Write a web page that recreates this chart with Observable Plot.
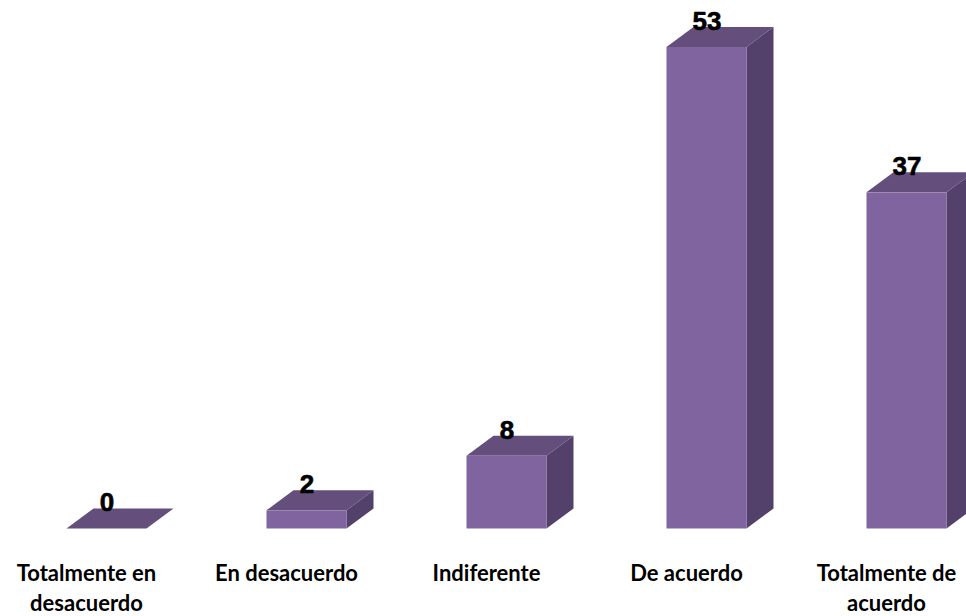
<!DOCTYPE html>
<html>
<head>
<meta charset="utf-8">
<script src="https://cdn.jsdelivr.net/npm/d3@7"></script>
<script src="https://cdn.jsdelivr.net/npm/@observablehq/plot@0.6"></script>
<style>
  html, body { margin: 0; padding: 0; background: #fff; overflow: hidden; }
  svg { display: block; }
</style>
</head>
<body>
<div id="chart"></div>
<script>
const categories = ["Totalmente en desacuerdo", "En desacuerdo", "Indiferente", "De acuerdo", "Totalmente de acuerdo"];
const values = [0, 2, 8, 53, 37];
const rows = categories.map((categoria, i) => ({categoria, valor: values[i]}));

// Oblique offset of the back edge of each box, in pixels
const depthX = 27;
const depthY = -20;

// Swaps the rects of a bar mark for parallelograms extruded from the front face
function extrude(face) {
  return (index, scales, channels, dimensions, context, next) => {
    const g = next(index, scales, channels, dimensions, context);
    d3.select(g).selectAll("rect").each(function () {
      const r = d3.select(this);
      const x = +r.attr("x"), y = +r.attr("y");
      const w = +r.attr("width"), h = +r.attr("height");
      const pts = face === "top"
        ? [[x, y], [x + w, y], [x + w + depthX, y + depthY], [x + depthX, y + depthY]]
        : [[x + w, y], [x + w + depthX, y + depthY], [x + w + depthX, y + h + depthY], [x + w, y + h]];
      const poly = d3.create("svg:polygon")
        .attr("points", pts.map(p => p.join(",")).join(" "))
        .attr("fill", r.attr("fill"));
      this.replaceWith(poly.node());
    });
    return g;
  };
}

const chart = Plot.plot({
  width: 966,
  height: 616,
  marginLeft: 66.5,
  marginRight: 19.5,
  marginTop: 47,
  marginBottom: 87.5,
  style: {background: "#fff"},
  x: {domain: categories, paddingInner: 0.6, paddingOuter: 0, round: false, label: null},
  y: {domain: [0, 53], label: null, axis: null},
  marks: [
    Plot.barY(rows, {x: "categoria", y: "valor", fill: "#54416b", render: extrude("side")}),
    Plot.barY(rows, {x: "categoria", y: "valor", fill: "#634e7c", render: extrude("top")}),
    Plot.barY(rows, {x: "categoria", y: "valor", fill: "#8064a0"}),
    Plot.text(rows, {
      x: "categoria", y: "valor", text: d => String(d.valor),
      dy: -26,
      fontFamily: "Liberation Sans", fontWeight: 700, fontSize: 26,
      stroke: "#000", strokeWidth: 0.6, fill: "#000"
    }),
    Plot.axisX({
      anchor: "bottom",
      tickSize: 0,
      tickPadding: 0,
      dx: -20.5,
      dy: 30.5,
      lineWidth: 7.4,
      lineHeight: 1.36,
      lineAnchor: "top",
      fontFamily: "Lato",
      fontWeight: 700,
      fontSize: 22,
      fill: "#000",
      label: null
    })
  ]
});

document.getElementById("chart").append(chart);
</script>
</body>
</html>
